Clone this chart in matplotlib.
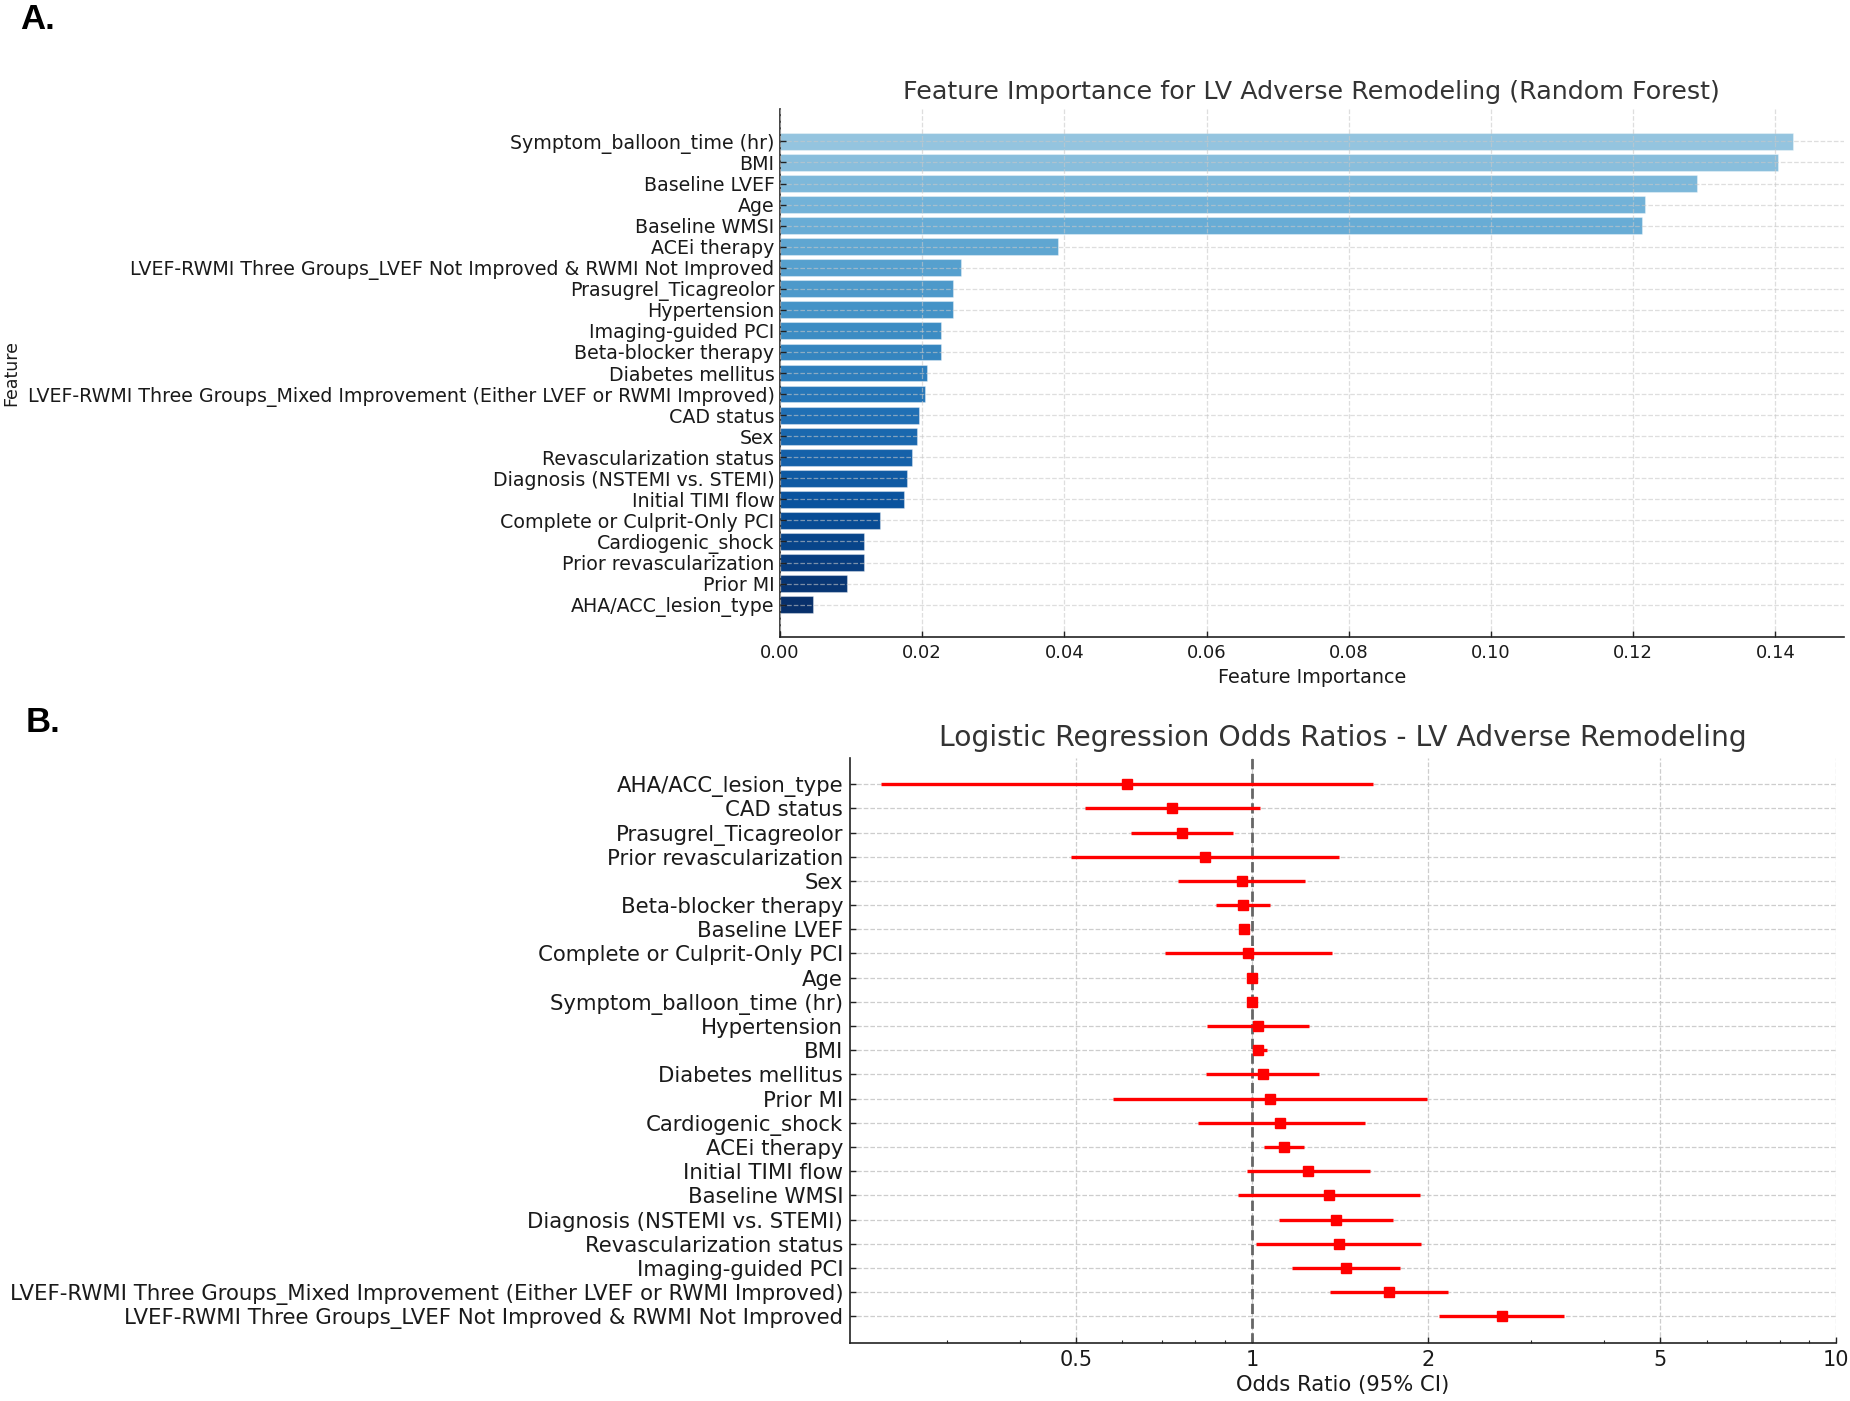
import numpy as np
import matplotlib
matplotlib.use("Agg")
import matplotlib.pyplot as plt
from matplotlib.ticker import FixedLocator, FixedFormatter, LogLocator, NullFormatter

# ---------------------------------------------------------------------------
# Data - panel A (random forest importance, top to bottom)
# ---------------------------------------------------------------------------

rf_features = [
    "Symptom_balloon_time (hr)",
    "BMI",
    "Baseline LVEF",
    "Age",
    "Baseline WMSI",
    "ACEi therapy",
    "LVEF-RWMI Three Groups_LVEF Not Improved & RWMI Not Improved",
    "Prasugrel_Ticagreolor",
    "Hypertension",
    "Imaging-guided PCI",
    "Beta-blocker therapy",
    "Diabetes mellitus",
    "LVEF-RWMI Three Groups_Mixed Improvement (Either LVEF or RWMI Improved)",
    "CAD status",
    "Sex",
    "Revascularization status",
    "Diagnosis (NSTEMI vs. STEMI)",
    "Initial TIMI flow",
    "Complete or Culprit-Only PCI",
    "Cardiogenic_shock",
    "Prior revascularization",
    "Prior MI",
    "AHA/ACC_lesion_type",
]
rf_importance = [
    0.1425, 0.1404, 0.1289, 0.1216, 0.1213, 0.0391, 0.0254, 0.0243,
    0.0243, 0.0227, 0.0226, 0.0207, 0.0204, 0.0195, 0.0193, 0.0186,
    0.0178, 0.0174, 0.0140, 0.0118, 0.0118, 0.0094, 0.0046,
]

# ---------------------------------------------------------------------------
# Data - panel B (logistic regression odds ratios, top to bottom)
# ---------------------------------------------------------------------------

or_features = [
    "AHA/ACC_lesion_type",
    "CAD status",
    "Prasugrel_Ticagreolor",
    "Prior revascularization",
    "Sex",
    "Beta-blocker therapy",
    "Baseline LVEF",
    "Complete or Culprit-Only PCI",
    "Age",
    "Symptom_balloon_time (hr)",
    "Hypertension",
    "BMI",
    "Diabetes mellitus",
    "Prior MI",
    "Cardiogenic_shock",
    "ACEi therapy",
    "Initial TIMI flow",
    "Baseline WMSI",
    "Diagnosis (NSTEMI vs. STEMI)",
    "Revascularization status",
    "Imaging-guided PCI",
    "LVEF-RWMI Three Groups_Mixed Improvement (Either LVEF or RWMI Improved)",
    "LVEF-RWMI Three Groups_LVEF Not Improved & RWMI Not Improved",
]
odds_ratio = [
    0.610, 0.729, 0.759, 0.830, 0.961, 0.965, 0.970, 0.983, 0.998, 0.998,
    1.022, 1.024, 1.043, 1.075, 1.118, 1.133, 1.247, 1.353, 1.394, 1.409,
    1.447, 1.715, 2.674,
]
ci_low = [
    0.232, 0.517, 0.620, 0.489, 0.747, 0.869, 0.957, 0.710, 0.992, 0.993,
    0.837, 1.004, 0.834, 0.579, 0.807, 1.049, 0.979, 0.945, 1.114, 1.016,
    1.172, 1.360, 2.087,
]
ci_high = [
    1.613, 1.031, 0.928, 1.408, 1.234, 1.075, 0.984, 1.368, 1.004, 1.003,
    1.251, 1.059, 1.301, 1.991, 1.561, 1.226, 1.589, 1.941, 1.746, 1.948,
    1.789, 2.166, 3.424,
]

or_ticks = [0.5, 1, 2, 5, 10]
or_tick_labels = ["0.5", "1", "2", "5", "10"]

# ---------------------------------------------------------------------------
# Style
# ---------------------------------------------------------------------------

TEXT = "#1a1a1a"
TITLE = "#333333"
GRID = "#c8c8c8"

plt.rcParams["font.family"] = ["DejaVu Sans"]


def style_axes(ax):
    for side in ["top", "right"]:
        ax.spines[side].set_visible(False)
    for side in ["left", "bottom"]:
        ax.spines[side].set_color("#222222")
        ax.spines[side].set_linewidth(1.2)
    ax.tick_params(which="both", direction="in", color="#222222", labelcolor=TEXT)
    ax.tick_params(which="major", length=4, width=1)
    ax.tick_params(which="minor", length=2.5, width=0.8)
    ax.grid(True, which="major", linestyle="--", color=GRID, linewidth=0.9, alpha=0.9)


fig = plt.figure(figsize=(18.5, 14.01), dpi=100)

# ---------------------------------------------------------------------------
# Panel A
# ---------------------------------------------------------------------------

ax1 = fig.add_axes([0.4216, 0.5453, 0.5751, 0.3769])
style_axes(ax1)
ax1.set_axisbelow(False)
ax1.grid(True, which="major", linestyle="--", color=GRID, linewidth=0.9, alpha=0.6)

y1 = np.arange(len(rf_features))
bar_colors = plt.cm.Blues(np.linspace(0.4, 1.0, len(rf_features)))
ax1.barh(y1, rf_importance, height=0.8, color=bar_colors,
         edgecolor=(1, 1, 1, 0.35), linewidth=0.8, zorder=1)
ax1.set_yticks(y1)
ax1.set_yticklabels(rf_features)
ax1.invert_yaxis()
ax1.tick_params(axis="y", labelsize=13.7, pad=4)
ax1.tick_params(axis="x", labelsize=13, pad=5)
ax1.set_xlabel("Feature Importance", fontsize=13.8, color=TEXT)
ax1.set_ylabel("Feature", fontsize=12.5, color=TEXT)
ax1.yaxis.set_label_coords(-0.714, 0.5)
ax1.set_title("Feature Importance for LV Adverse Remodeling (Random Forest)",
              fontsize=18.3, color=TITLE, pad=7)

# ---------------------------------------------------------------------------
# Panel B
# ---------------------------------------------------------------------------

ax2 = fig.add_axes([0.4595, 0.0414, 0.5330, 0.4179])
style_axes(ax2)
ax2.set_axisbelow(True)

y2 = np.arange(len(or_features))
odds = np.array(odds_ratio)
xerr = [odds - np.array(ci_low), np.array(ci_high) - odds]
ax2.axvline(1, color="#666666", linestyle="--", linewidth=2, zorder=2)
ax2.errorbar(odds, y2, xerr=xerr, fmt="s", color="red", ecolor="red",
             elinewidth=2.4, markersize=7.5, capsize=0, zorder=3)
ax2.set_xscale("log")
ax2.set_xlim(0.205, 10)
ax2.xaxis.set_major_locator(FixedLocator(or_ticks))
ax2.xaxis.set_major_formatter(FixedFormatter(or_tick_labels))
ax2.xaxis.set_minor_locator(LogLocator(base=10, subs=np.arange(2, 10)))
ax2.xaxis.set_minor_formatter(NullFormatter())
ax2.set_yticks(y2)
ax2.set_yticklabels(or_features)
ax2.invert_yaxis()
ax2.tick_params(axis="y", labelsize=15.3, pad=5)
ax2.tick_params(axis="x", labelsize=15, pad=5)
ax2.set_xlabel("Odds Ratio (95% CI)", fontsize=15.2, color=TEXT)
ax2.set_title("Logistic Regression Odds Ratios - LV Adverse Remodeling",
              fontsize=20.3, color=TITLE, pad=8)

# panel letters
fig.text(0.011, 0.998, "A.", fontsize=25, fontweight="bold",
         family=["Liberation Sans", "DejaVu Sans"], va="top", ha="left")
fig.text(0.014, 0.496, "B.", fontsize=25, fontweight="bold",
         family=["Liberation Sans", "DejaVu Sans"], va="top", ha="left")

fig.savefig("out.png", dpi=100)
